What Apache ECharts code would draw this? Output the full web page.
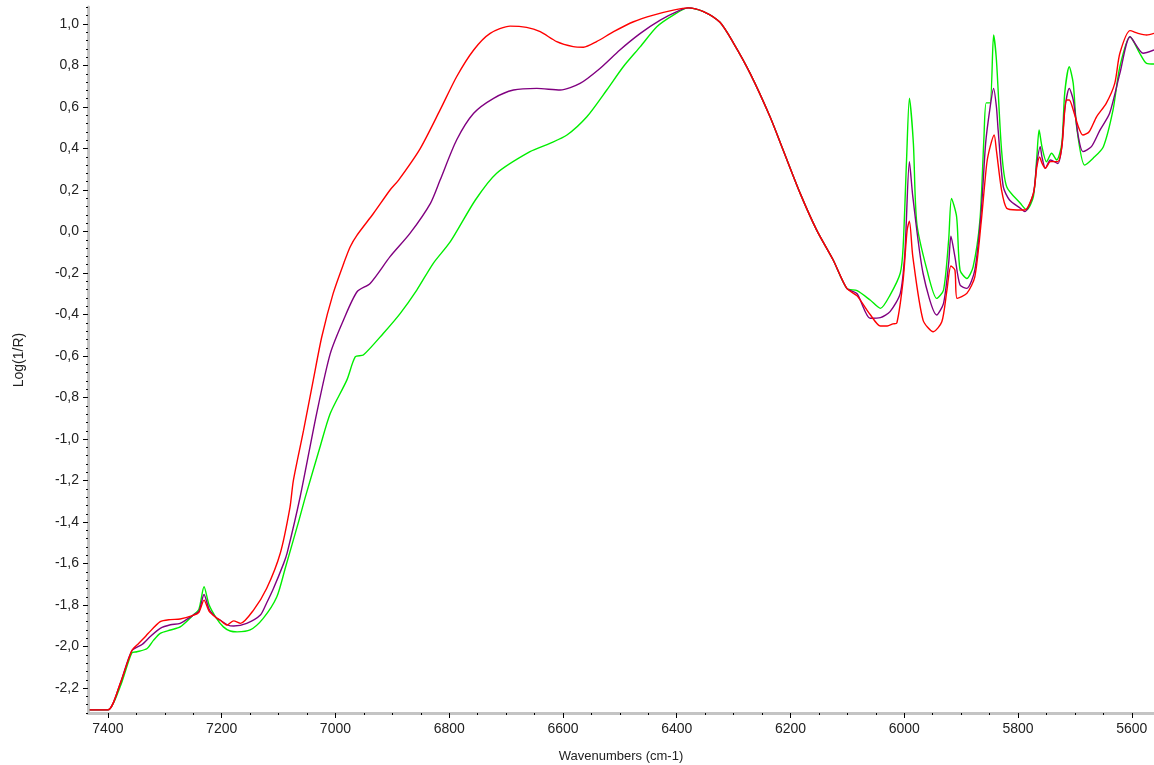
<!DOCTYPE html>
<html>
<head>
<meta charset="utf-8">
<script src="https://cdn.jsdelivr.net/npm/echarts@6/dist/echarts.min.js"></script>
<style>
  html, body { margin: 0; padding: 0; background: #fff; }
  #chart { width: 1154px; height: 765px; }
</style>
</head>
<body>
<div id="chart"></div>
<script>
// tick labels
const xTicks = [7400, 7200, 7000, 6800, 6600, 6400, 6200, 6000, 5800, 5600];
const yTicks = [-2.2, -2.0, -1.8, -1.6, -1.4, -1.2, -1.0, -0.8, -0.6, -0.4, -0.2, 0.0, 0.2, 0.4, 0.6, 0.8, 1.0];

// spectra: [wavenumber, log(1/R)]
const redSpectrum = [
  [7432, -2.305], [7400, -2.305], [7378, -2.175], [7358, -2.02], [7346, -1.985], [7337, -1.96],
  [7329, -1.936], [7308, -1.88], [7290, -1.87], [7273, -1.867], [7250, -1.85], [7240, -1.835],
  [7231, -1.776], [7222, -1.83], [7210, -1.86], [7203, -1.872], [7191, -1.896], [7179, -1.876],
  [7167, -1.888], [7144, -1.824], [7121, -1.72], [7097, -1.55], [7080, -1.33], [7074, -1.2],
  [7056, -0.957], [7039, -0.716], [7024, -0.507], [7004, -0.298], [6985, -0.15], [6974, -0.073],
  [6962, -0.017], [6933, 0.088], [6904, 0.2], [6889, 0.248], [6851, 0.40], [6816, 0.586],
  [6787, 0.746], [6757, 0.875], [6728, 0.955], [6693, 0.99], [6664, 0.984], [6640, 0.963],
  [6611, 0.915], [6582, 0.891], [6564, 0.888], [6541, 0.915], [6511, 0.963], [6476, 1.011],
  [6441, 1.043], [6406, 1.067], [6380, 1.078], [6353, 1.06], [6324, 1.008], [6300, 0.907],
  [6271, 0.762], [6236, 0.553], [6213, 0.393], [6183, 0.184], [6154, 0.007], [6125, -0.137],
  [6101, -0.274], [6083, -0.31], [6060, -0.40], [6042, -0.455], [6030, -0.455], [6020, -0.445],
  [6013, -0.44], [6002, -0.234], [5995, 0.007], [5991, 0.05], [5985, -0.121], [5967, -0.427],
  [5949, -0.483], [5934, -0.435], [5925, -0.282], [5918, -0.166], [5911, -0.186], [5907, -0.322],
  [5890, -0.298], [5876, -0.218], [5865, 0.04], [5855, 0.328], [5849, 0.409], [5842, 0.465],
  [5838, 0.39], [5829, 0.2], [5820, 0.112], [5802, 0.104], [5788, 0.104], [5773, 0.184],
  [5767, 0.31], [5762, 0.36], [5758, 0.33], [5752, 0.305], [5743, 0.337], [5730, 0.337],
  [5723, 0.409], [5715, 0.634], [5710, 0.634], [5703, 0.586], [5694, 0.505], [5686, 0.465],
  [5675, 0.481], [5662, 0.553], [5645, 0.618], [5630, 0.714], [5621, 0.859], [5603, 0.968],
  [5589, 0.955], [5574, 0.947], [5561, 0.955]
];

const purpleSpectrum = [
  [7432, -2.305], [7400, -2.305], [7378, -2.175], [7358, -2.02], [7340, -1.99], [7325, -1.95],
  [7308, -1.912], [7290, -1.895], [7273, -1.888], [7250, -1.848], [7240, -1.83], [7231, -1.749],
  [7222, -1.82], [7210, -1.86], [7203, -1.872], [7190, -1.895], [7179, -1.901], [7156, -1.888],
  [7132, -1.848], [7121, -1.79], [7109, -1.72], [7091, -1.599], [7085, -1.55], [7062, -1.278],
  [7033, -0.876], [7009, -0.587], [6986, -0.427], [6962, -0.29], [6939, -0.25], [6904, -0.121],
  [6869, -0.009], [6833, 0.136], [6816, 0.248], [6787, 0.441], [6757, 0.57], [6722, 0.642],
  [6687, 0.682], [6646, 0.69], [6605, 0.682], [6570, 0.714], [6535, 0.786], [6500, 0.875],
  [6464, 0.955], [6429, 1.019], [6394, 1.067], [6380, 1.078], [6353, 1.06], [6324, 1.008],
  [6300, 0.907], [6271, 0.762], [6236, 0.553], [6213, 0.393], [6183, 0.184], [6154, 0.007],
  [6125, -0.137], [6101, -0.274], [6083, -0.30], [6060, -0.418], [6042, -0.415], [6025, -0.386],
  [6007, -0.298], [5999, -0.105], [5991, 0.336], [5985, 0.168], [5967, -0.201], [5943, -0.402],
  [5931, -0.346], [5922, -0.153], [5918, -0.022], [5911, -0.121], [5902, -0.258], [5890, -0.274],
  [5876, -0.186], [5865, 0.088], [5857, 0.425], [5849, 0.601], [5843, 0.69], [5838, 0.6],
  [5835, 0.489], [5826, 0.216], [5815, 0.152], [5796, 0.112], [5788, 0.096], [5773, 0.184],
  [5767, 0.328], [5761, 0.409], [5758, 0.36], [5752, 0.305], [5743, 0.345], [5730, 0.328],
  [5723, 0.409], [5718, 0.586], [5710, 0.69], [5703, 0.634], [5694, 0.457], [5686, 0.385],
  [5671, 0.409], [5656, 0.489], [5639, 0.57], [5621, 0.762], [5603, 0.939], [5580, 0.859],
  [5561, 0.875]
];

const greenSpectrum = [
  [7432, -2.305], [7400, -2.305], [7378, -2.19], [7358, -2.03], [7349, -2.025], [7331, -2.009],
  [7320, -1.97], [7308, -1.936], [7290, -1.92], [7273, -1.905], [7250, -1.848], [7240, -1.82],
  [7231, -1.712], [7222, -1.80], [7210, -1.86], [7197, -1.905], [7185, -1.925], [7173, -1.929],
  [7150, -1.92], [7127, -1.864], [7103, -1.76], [7088, -1.62], [7065, -1.40], [7053, -1.28],
  [7027, -1.037], [7009, -0.876], [6980, -0.716], [6965, -0.603], [6951, -0.595], [6916, -0.491],
  [6886, -0.394], [6857, -0.282], [6828, -0.153], [6798, -0.049], [6754, 0.152], [6717, 0.28],
  [6658, 0.385], [6623, 0.425], [6593, 0.465], [6558, 0.553], [6523, 0.682], [6494, 0.794],
  [6464, 0.891], [6435, 0.987], [6406, 1.043], [6380, 1.078], [6353, 1.06], [6324, 1.008],
  [6300, 0.907], [6271, 0.762], [6236, 0.553], [6213, 0.393], [6183, 0.184], [6154, 0.007],
  [6125, -0.137], [6101, -0.274], [6083, -0.285], [6060, -0.33], [6042, -0.37], [6025, -0.306],
  [6007, -0.20], [6002, -0.073], [5996, 0.345], [5991, 0.642], [5984, 0.425], [5978, 0.04],
  [5960, -0.186], [5943, -0.322], [5931, -0.282], [5922, -0.041], [5917, 0.16], [5908, 0.071],
  [5902, -0.186], [5890, -0.226], [5879, -0.17], [5867, 0.055], [5860, 0.45], [5856, 0.62],
  [5849, 0.62], [5843, 0.947], [5838, 0.826], [5829, 0.393], [5820, 0.216], [5796, 0.136],
  [5785, 0.104], [5773, 0.168], [5767, 0.36], [5763, 0.489], [5758, 0.409], [5750, 0.336],
  [5741, 0.377], [5732, 0.345], [5723, 0.425], [5718, 0.666], [5710, 0.794], [5703, 0.714],
  [5697, 0.505], [5683, 0.32], [5668, 0.353], [5650, 0.409], [5633, 0.586], [5621, 0.794],
  [5603, 0.939], [5586, 0.859], [5574, 0.81], [5561, 0.807]
];

const xMin = 5561, xMax = 7435;
const yMin = -2.32, yMax = 1.082;

// minor tick positions
const xMinor = [];
for (let w = 5600; w <= 7400; w += 50) {
  if (w % 200 !== 0) xMinor.push(w);
}
const yMinor = [];
for (let i = -58; i <= 27; i++) {
  if (i % 5 !== 0) yMinor.push(+(i * 0.04).toFixed(2));
}

const font = '"Liberation Sans", Arial, sans-serif';
const textColor = '#222';

const chart = echarts.init(document.getElementById('chart'));

chart.setOption({
  animation: false,
  backgroundColor: '#fff',
  grid: { left: 88, right: 0, top: 7, bottom: 52, containLabel: false, outerBoundsMode: 'none' },
  xAxis: [
    {
      type: 'value', inverse: true, min: xMin, max: xMax,
      name: 'Wavenumbers (cm-1)', nameLocation: 'middle', nameGap: 37,
      nameTextStyle: { fontSize: 13, color: textColor, fontFamily: font },
      axisLine: { show: true, onZero: false, lineStyle: { color: '#c4c4c4', width: 3 } },
      axisTick: { show: true, customValues: xTicks, length: 5, lineStyle: { color: '#000' } },
      axisLabel: {
        customValues: xTicks, fontSize: 14, color: textColor, fontFamily: font, margin: 9,
        formatter: v => String(v)
      },
      splitLine: { show: false }
    },
    {
      type: 'value', inverse: true, min: xMin, max: xMax, position: 'bottom',
      axisLine: { show: false, onZero: false },
      axisTick: { show: true, customValues: xMinor, length: 2, lineStyle: { color: '#000' } },
      axisLabel: { show: false },
      splitLine: { show: false }
    }
  ],
  yAxis: [
    {
      type: 'value', min: yMin, max: yMax,
      name: 'Log(1/R)', nameLocation: 'middle', nameGap: 62,
      nameTextStyle: { fontSize: 14, color: textColor, fontFamily: font },
      axisLine: { show: true, onZero: false, lineStyle: { color: '#c4c4c4', width: 3 } },
      axisTick: { show: true, customValues: yTicks, length: 5, lineStyle: { color: '#000' } },
      axisLabel: {
        customValues: yTicks, fontSize: 14, color: textColor, fontFamily: font, margin: 9,
        formatter: v => v.toFixed(1).replace('.', ',')
      },
      splitLine: { show: false }
    },
    {
      type: 'value', min: yMin, max: yMax, position: 'left',
      axisLine: { show: false, onZero: false },
      axisTick: { show: true, customValues: yMinor, length: 2, lineStyle: { color: '#000' } },
      axisLabel: { show: false },
      splitLine: { show: false }
    }
  ],
  series: [
    { name: 'green', type: 'line', data: greenSpectrum, showSymbol: false, smooth: 0.25, lineStyle: { color: '#00ee00', width: 1.4 } },
    { name: 'purple', type: 'line', data: purpleSpectrum, showSymbol: false, smooth: 0.25, lineStyle: { color: '#800080', width: 1.4 } },
    { name: 'red', type: 'line', data: redSpectrum, showSymbol: false, smooth: 0.25, lineStyle: { color: '#ff0000', width: 1.4 } }
  ]
});
</script>
</body>
</html>
